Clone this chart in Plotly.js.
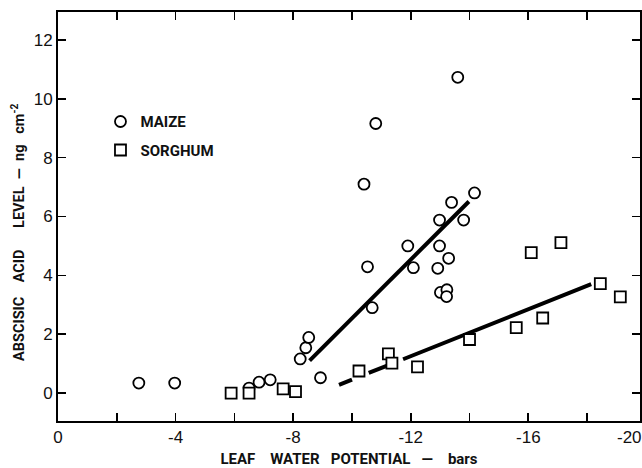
<!DOCTYPE html>
<html>
<head>
<meta charset="utf-8">
<script src="https://cdn.plot.ly/plotly-3.0.1.min.js"></script>
<style>
  html, body { margin: 0; padding: 0; background: #ffffff; overflow: hidden; }
  #chart { width: 642px; height: 468px; }
</style>
</head>
<body>
<div id="chart"></div>
<script>
// Leaf water potential (bars) against abscisic acid level (ng cm^-2)
const maizePotential = [-2.75, -3.97, -6.50, -6.84, -7.22, -8.24, -8.43, -8.53, -8.93,
  -10.69, -10.53, -10.41, -10.81, -13.60, -11.90, -12.09, -12.98, -12.98, -12.92,
  -13.29, -13.01, -13.23, -13.22, -13.39, -13.80, -14.17];
const maizeABA = [0.34, 0.34, 0.17, 0.37, 0.45, 1.16, 1.54, 1.89, 0.52,
  2.90, 4.29, 7.10, 9.16, 10.73, 5.00, 4.26, 5.88, 5.00, 4.24,
  4.58, 3.42, 3.51, 3.28, 6.48, 5.88, 6.80];

const sorghumPotential = [-5.89, -6.50, -7.66, -8.08, -10.24, -11.24, -11.36, -12.23,
  -14.00, -15.59, -16.49, -16.10, -17.11, -18.45, -19.13];
const sorghumABA = [0.00, 0.00, 0.14, 0.05, 0.75, 1.33, 1.02, 0.89,
  1.82, 2.22, 2.55, 4.77, 5.11, 3.72, 3.27];

// Fitted regression lines (end points)
const maizeFitPotential = [-8.56, -13.98];
const maizeFitABA = [1.10, 6.51];
const sorghumFitPotential = [-9.56, -18.14];
const sorghumFitABA = [0.28, 3.70];

// Axis ticks
const xTickValues = [0, -4, -8, -12, -16];
const xTickLabels = ['0', '-4', '-8', '-12', '-16'];
const xEndLabel = '-20';
const yTickValues = [0, 2, 4, 6, 8, 10, 12];
const yTickLabels = ['0', '2', '4', '6', '8', '10', '12'];

const seriesNames = ['MAIZE', 'SORGHUM'];

const NB = '\u00A0';
const sp = n => NB.repeat(n);
const labelFont = "Roboto, 'Liberation Sans', Arial, sans-serif";
const tickFont = { family: "'Liberation Sans', Arial, Helvetica, sans-serif", size: 17, color: '#111' };

const traces = [
  {
    x: maizeFitPotential, y: maizeFitABA, type: 'scatter', mode: 'lines',
    line: { color: '#000', width: 4 }, showlegend: false, hoverinfo: 'skip'
  },
  {
    // the low end of the sorghum fit is broken into dashes
    x: sorghumFitPotential, y: sorghumFitABA, type: 'scatter', mode: 'lines',
    line: { color: '#000', width: 4, dash: '14px,18px,22px,15px,400px' },
    showlegend: false, hoverinfo: 'skip'
  },
  {
    x: maizePotential, y: maizeABA, type: 'scatter', mode: 'markers',
    name: seriesNames[0], legendgroup: 'maize',
    marker: { symbol: 'circle', size: 11, color: '#fff', line: { color: '#000', width: 1.8 } },
    cliponaxis: false
  },
  {
    x: sorghumPotential, y: sorghumABA, type: 'scatter', mode: 'markers',
    name: seriesNames[1], legendgroup: 'sorghum',
    marker: { symbol: 'square', size: 11, color: '#fff', line: { color: '#000', width: 1.8 } },
    cliponaxis: false
  }
];

const axisCommon = {
  showline: true, linecolor: '#000', linewidth: 2, mirror: 'ticks',
  ticks: 'inside', ticklen: 8, tickwidth: 1.6, tickcolor: '#000',
  showgrid: false, zeroline: false, tickfont: tickFont
};

const layout = {
  width: 642, height: 468,
  margin: { l: 58, r: 2, t: 12, b: 47 },
  paper_bgcolor: '#fff', plot_bgcolor: '#fff',
  showlegend: true,
  legend: {
    x: 0.073, y: 0.772, xanchor: 'left', yanchor: 'top',
    traceorder: 'grouped', tracegroupgap: 6,
    font: { family: labelFont, size: 15, color: '#111', weight: 'bold' },
    bgcolor: 'rgba(0,0,0,0)'
  },
  xaxis: Object.assign({}, axisCommon, {
    range: [0, -19.8],
    tickmode: 'array', tickvals: xTickValues, ticktext: xTickLabels,
    minor: { tickmode: 'linear', tick0: 0, dtick: 2, ticks: 'inside', ticklen: 8, tickwidth: 1.6, tickcolor: '#000', showgrid: false },
    title: {
      text: 'LEAF' + sp(4) + 'WATER' + sp(3) + 'POTENTIAL' + sp(3) + '\u2014' + sp(4) + 'bars' + sp(6),
      font: { family: labelFont, size: 15, color: '#111', weight: 'bold' },
      standoff: 13
    }
  }),
  yaxis: Object.assign({}, axisCommon, {
    range: [-0.95, 12.95],
    tickmode: 'array', tickvals: yTickValues, ticktext: yTickLabels
  }),
  annotations: [
    {
      xref: 'paper', yref: 'paper', x: (629 - 58) / 582, y: -0.012,
      xanchor: 'center', yanchor: 'top', showarrow: false,
      text: xEndLabel, font: tickFont
    },
    {
      xref: 'paper', yref: 'paper', x: (18 - 58) / 582, y: (421 - 233) / 409,
      xanchor: 'center', yanchor: 'middle', showarrow: false, textangle: -90,
      text: 'ABSCISIC' + sp(4) + 'ACID' + sp(6) + 'LEVEL' + sp(2) + '\u2014' + sp(2) + 'ng' + sp(3) + 'cm<sup>-2</sup>',
      font: { family: labelFont, size: 14.5, color: '#111', weight: 'bold' }
    }
  ]
};

Plotly.newPlot('chart', traces, layout, { staticPlot: true, displayModeBar: false });
</script>
</body>
</html>
